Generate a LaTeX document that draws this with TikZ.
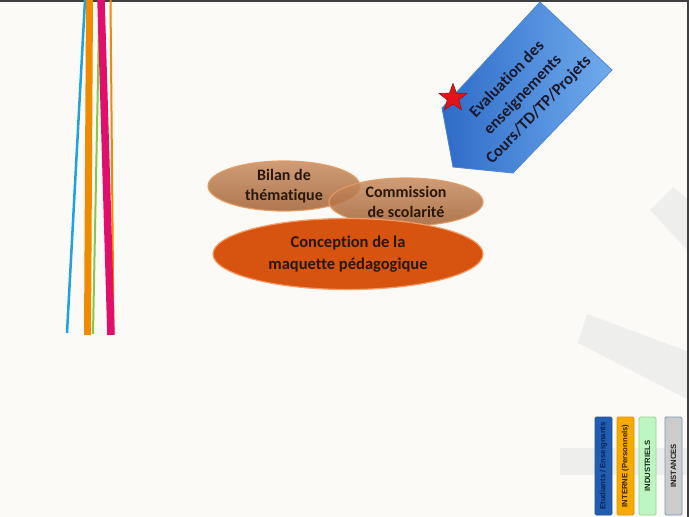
\documentclass[tikz,border=0pt]{standalone}
\usepackage{fontspec}
\setmainfont{Carlito}[Ligatures={NoCommon}]
\newfontfamily\legendfont{Liberation Sans}
\usetikzlibrary{shapes.geometric}
\newlength{\du}
\setlength{\du}{1pt}

\begin{document}
\begin{tikzpicture}
\pgftransformxscale{1.000000}
\pgftransformyscale{-1.000000}
\useasboundingbox (0\du,0\du) rectangle (689\du,517\du);
\definecolor{dialinecolor}{rgb}{0.984000, 0.980000, 0.965000}
\pgfsetfillcolor{dialinecolor}
\fill (0\du,0\du) rectangle (689\du,517\du);
% faint background strokes
\definecolor{dialinecolor}{rgb}{0.935000, 0.935000, 0.925000}
\pgfsetfillcolor{dialinecolor}
\fill (673\du,187\du)--(689\du,200\du)--(689\du,252\du)--(650\du,210\du)--cycle;
\fill (587\du,314\du)--(689\du,352\du)--(689\du,400\du)--(578\du,343\du)--cycle;
\fill (560\du,448\du) rectangle (689\du,475\du);
% frame
\pgfsetlinewidth{1.600000\du}
\definecolor{dialinecolor}{rgb}{0.250000, 0.250000, 0.250000}
\pgfsetstrokecolor{dialinecolor}
\draw (0\du,0.8\du)--(689\du,0.8\du);
\draw (688.2\du,0\du)--(688.2\du,517\du);
% coloured strips
\pgfsetbuttcap
\pgfsetlinewidth{2.500000\du}
\definecolor{dialinecolor}{rgb}{0.110000, 0.640000, 0.880000}
\pgfsetstrokecolor{dialinecolor}
\draw (85\du,0\du)--(67\du,333\du);
\pgfsetlinewidth{2.000000\du}
\definecolor{dialinecolor}{rgb}{0.550000, 0.780000, 0.250000}
\pgfsetstrokecolor{dialinecolor}
\draw (99.5\du,0\du)--(93\du,334\du);
\pgfsetlinewidth{7.000000\du}
\definecolor{dialinecolor}{rgb}{0.940000, 0.540000, 0.000000}
\pgfsetstrokecolor{dialinecolor}
\draw (89.5\du,0\du)--(87.5\du,335\du);
\pgfsetlinewidth{2.000000\du}
\draw (110.5\du,0\du)--(113.5\du,334\du);
\pgfsetlinewidth{7.500000\du}
\definecolor{dialinecolor}{rgb}{0.880000, 0.060000, 0.420000}
\pgfsetstrokecolor{dialinecolor}
\draw (101\du,0\du)--(111\du,335\du);
% blue pentagon
\definecolor{arrowdark}{rgb}{0.180000, 0.420000, 0.780000}
\definecolor{arrowlight}{rgb}{0.440000, 0.670000, 0.930000}
\definecolor{arrowedge}{rgb}{0.300000, 0.520000, 0.820000}
\definecolor{arrowtext}{rgb}{0.100000, 0.100000, 0.180000}
\pgfsetlinewidth{0.800000\du}
\shadedraw[left color=arrowdark, right color=arrowlight, draw=arrowedge] (540\du,2\du)--(612\du,70\du)--(513\du,173\du)--(453\du,167\du)--(442\du,108\du)--cycle;
\node[rotate=46, align=center, text=arrowtext, font=\bfseries\fontsize{16.5}{22}\selectfont] (evaltext) at (523\du,95\du) {Evaluation des\\enseignements\\Cours/TD/TP/Projets};
\definecolor{starred}{rgb}{0.900000, 0.070000, 0.110000}
\node[star, star points=5, star point ratio=2.4, minimum size=29\du, inner sep=0pt, fill=starred, draw=starred!70!black, line width=0.6\du] (evalstar) at (453\du,98\du) {};
% ellipses
\definecolor{brownlight}{rgb}{0.780000, 0.550000, 0.380000}
\definecolor{browndark}{rgb}{0.640000, 0.380000, 0.200000}
\definecolor{brownedge}{rgb}{0.900000, 0.600000, 0.380000}
\definecolor{conception}{rgb}{0.840000, 0.330000, 0.060000}
\definecolor{conceptionedge}{rgb}{0.960000, 0.600000, 0.400000}
\definecolor{ellipsetext}{rgb}{0.170000, 0.090000, 0.030000}
\tikzset{ovalbrown/.style={ellipse, inner sep=0pt, top color=brownlight, bottom color=browndark, draw=brownedge, line width=1.2\du, fill opacity=0.85, draw opacity=0.9, text opacity=1, text=ellipsetext, align=center, font=\bfseries\fontsize{16}{20}\selectfont}}
\node[ovalbrown, minimum width=152\du, minimum height=50\du] (bilan) at (284\du,186\du) {Bilan de\\thématique};
\node[ovalbrown, minimum width=154\du, minimum height=48\du] (commission) at (406\du,202\du) {Commission\\de scolarité};
\node[ellipse, inner sep=0pt, minimum width=270\du, minimum height=71\du, fill=conception, draw=conceptionedge, line width=1.2\du, text=ellipsetext, align=center, font=\bfseries\fontsize{16.5}{22}\selectfont] (conception) at (348\du,254\du) {Conception de la\\maquette pédagogique};
% legend
\tikzset{legendbox/.style={rectangle, rounded corners=1.5\du, rotate=90, minimum width=98\du, minimum height=17\du, inner sep=0pt, line width=0.9\du, font=\legendfont\bfseries\fontsize{7.7}{8}\selectfont}}
\node[legendbox, fill={rgb,1:red,0.120;green,0.370;blue,0.690}, draw={rgb,1:red,0.160;green,0.310;blue,0.560}, text={rgb,1:red,0.060;green,0.130;blue,0.330}] (etudiants) at (603.5\du,466\du) {Etudiants / Enseignants};
\node[legendbox, fill={rgb,1:red,0.970;green,0.670;blue,0.000}, draw={rgb,1:red,0.850;green,0.560;blue,0.000}, text={rgb,1:red,0.220;green,0.120;blue,0.000}] (interne) at (625.5\du,466\du) {INTERNE (Personnels)};
\node[legendbox, fill={rgb,1:red,0.750;green,0.960;blue,0.760}, draw={rgb,1:red,0.560;green,0.840;blue,0.560}, text={rgb,1:red,0.080;green,0.180;blue,0.080}] (industriels) at (647.5\du,466\du) {INDUSTRIELS};
\node[legendbox, fill={rgb,1:red,0.800;green,0.800;blue,0.800}, draw={rgb,1:red,0.480;green,0.580;blue,0.720}, text={rgb,1:red,0.130;green,0.130;blue,0.130}] (instances) at (673.5\du,466\du) {INSTANCES};
\end{tikzpicture}
\end{document}
